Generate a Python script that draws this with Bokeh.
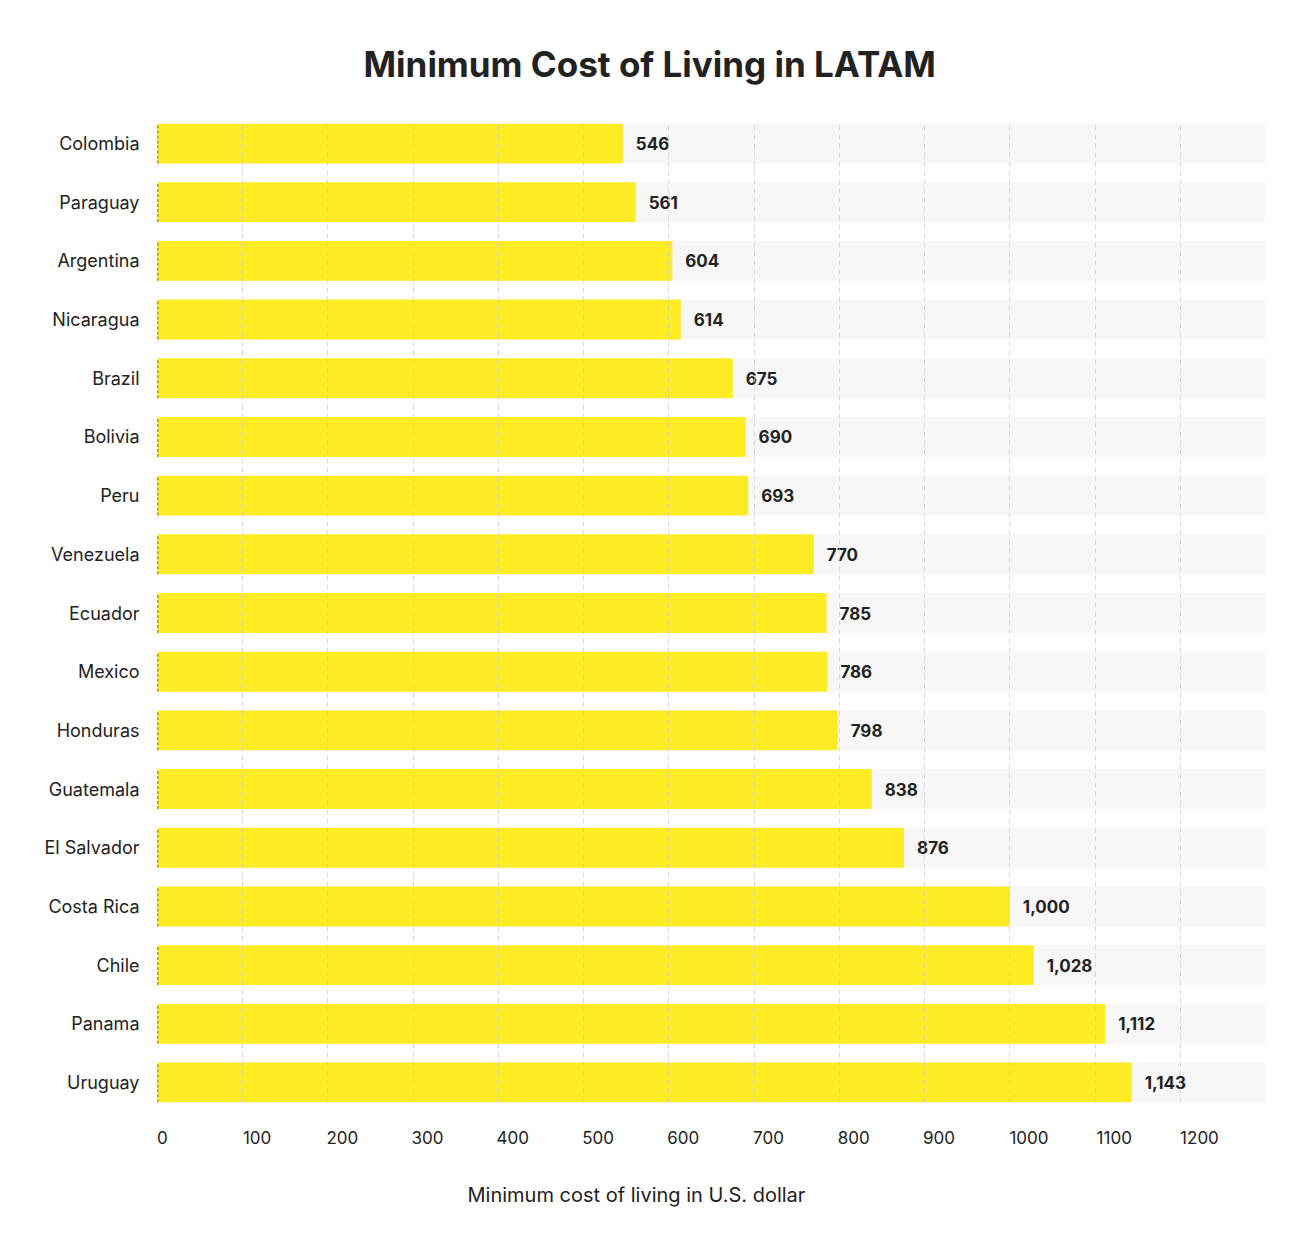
from bokeh.plotting import figure
from bokeh.models import FactorRange, Range1d, FixedTicker, Title, ColumnDataSource
from bokeh.transform import dodge
from bokeh.embed import file_html
from bokeh.resources import INLINE
from bokeh.core.properties import value

countries = ["Colombia", "Paraguay", "Argentina", "Nicaragua", "Brazil", "Bolivia", "Peru",
             "Venezuela", "Ecuador", "Mexico", "Honduras", "Guatemala", "El Salvador",
             "Costa Rica", "Chile", "Panama", "Uruguay"]
costs = [546, 561, 604, 614, 675, 690, 693, 770, 785, 786, 798, 838, 876, 1000, 1028, 1112, 1143]
x_ticks = [0, 100, 200, 300, 400, 500, 600, 700, 800, 900, 1000, 1100, 1200, 1300]
x_tick_labels = ["0", "100", "200", "300", "400", "500", "600", "700", "800", "900",
                 "1000", "1100", "1200", ""]
x_max = 1300
title_text = "Minimum Cost of Living in LATAM"
x_title_text = "Minimum cost of living in U.S. dollar"

FONT = "Inter"
TXT = "#222222"

W, H = 1284, 1242
BL, BR, BT, BB = 157, 19, 123, 140

src = ColumnDataSource(dict(
    country=countries,
    cost=costs,
    full=[x_max] * len(countries),
    zero=[0] * len(countries),
    label=[f"{v:,}" for v in costs],
))

y_range = FactorRange(factors=list(reversed(countries)), range_padding=-0.16,
                      range_padding_units="absolute")

p = figure(width=W, height=H, y_range=y_range, x_range=Range1d(0, x_max),
           output_backend="svg", toolbar_location=None,
           min_border_left=BL, min_border_right=BR, min_border_top=BT, min_border_bottom=BB)
p.outline_line_color = None
p.background_fill_color = "white"
p.border_fill_color = "white"

# background bands
p.hbar(y="country", left="zero", right="full", height=0.68, source=src,
       fill_color="#f7f7f7", line_color=None)
# bars
p.hbar(y="country", left="zero", right="cost", height=0.68, source=src,
       fill_color="#fdeb24", line_color=None)
# dark dashed edge at zero
p.segment(x0="zero", x1="zero",
          y0=dodge("country", -0.34, range=y_range), y1=dodge("country", 0.34, range=y_range),
          source=src, line_color="#333333", line_width=1.5, line_dash="3 2")
# value labels
p.text(x="cost", y="country", text="label", source=src, x_offset=13,
       text_font=value(FONT), text_font_style="bold", text_font_size="17px",
       text_color=TXT, text_baseline="middle", text_align="left")

# grid
p.ygrid.grid_line_color = None
p.xgrid.ticker = FixedTicker(ticks=x_ticks)
p.xgrid.grid_line_color = "#c8c8c8"
p.xgrid.grid_line_alpha = 0.7
p.xgrid.grid_line_dash = "5 4"
p.xgrid.level = "overlay"

# x axis: labels left-aligned at their grid line (label centre shifted right by half its width)
px_per_unit = (W - BL - BR) / x_max
char_px = 9.6
label_pos = [round(t + len(s) * char_px / 2 / px_per_unit, 3) for t, s in zip(x_ticks, x_tick_labels)]
xa = p.xaxis[0]
xa.ticker = FixedTicker(ticks=label_pos)
xa.major_label_overrides = {pos: s for pos, s in zip(label_pos, x_tick_labels)}
xa.axis_line_color = None
xa.major_tick_line_color = None
xa.minor_tick_line_color = None
xa.major_label_standoff = 22
xa.major_label_text_font = FONT
xa.major_label_text_font_size = "17px"
xa.major_label_text_color = TXT

# y axis
ya = p.yaxis[0]
ya.axis_line_color = None
ya.major_tick_line_color = None
ya.minor_tick_line_color = None
ya.major_label_standoff = 12
ya.major_label_text_font = FONT
ya.major_label_text_font_size = "18px"
ya.major_label_text_color = TXT

# titles
p.add_layout(Title(text=title_text, align="left", offset=206, standoff=77,
                   text_font=FONT, text_font_size="35px", text_font_style="bold",
                   text_color=TXT), "above")
p.add_layout(Title(text=x_title_text, align="left", offset=310, standoff=68,
                   text_font=FONT, text_font_size="20px", text_font_style="normal",
                   text_color=TXT), "below")

open("out.html", "w").write(file_html(p, INLINE))
